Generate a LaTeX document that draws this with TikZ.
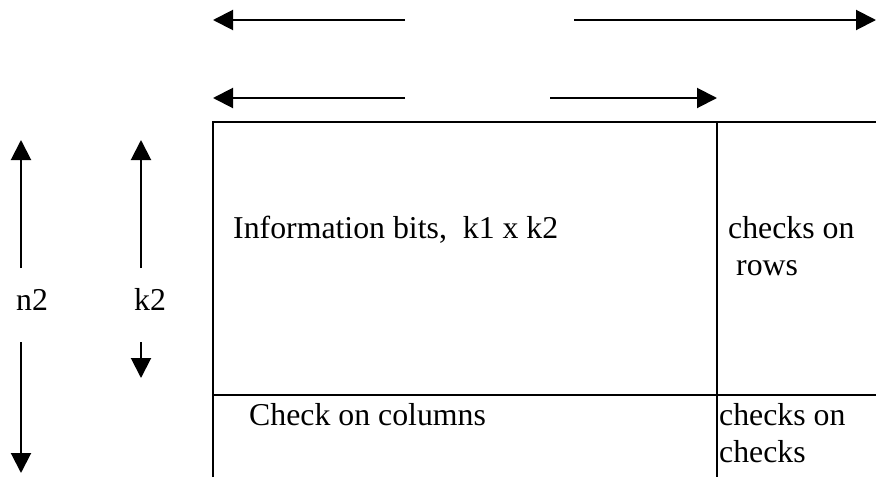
\documentclass[tikz,border=0pt]{standalone}
\usepackage{fontspec}
\setmainfont{Liberation Serif}
\usetikzlibrary{arrows.meta}
\begin{document}
\begin{tikzpicture}[x=1pt,y=-1pt,
  lbl/.style={inner sep=0pt, font=\fontsize{31.8}{37}\selectfont},
  rule/.style={line width=2pt},
  arr/.style={line width=2pt, -{Triangle[length=20pt,width=20pt]}}]
\useasboundingbox (0,0) rectangle (876,477);
% grid of the product code
\coordinate (TL) at (213,122);
\coordinate (TR) at (876,122);
\coordinate (ML) at (213,395);
\coordinate (MR) at (876,395);
\coordinate (BL) at (213,477);
\coordinate (VT) at (717,122);
\coordinate (VB) at (717,477);
\draw[rule] (BL) -- (TL) -- (TR);
\draw[rule] (VT) -- (VB);
\draw[rule] (ML) -- (MR);
% horizontal arrows
\coordinate (h1s) at (405,20);  \coordinate (h1e) at (213,20);
\coordinate (h2s) at (574,20);  \coordinate (h2e) at (876,20);
\coordinate (h3s) at (405,98);  \coordinate (h3e) at (213,98);
\coordinate (h4s) at (550,98);  \coordinate (h4e) at (717,98);
\draw[arr] (h1s) -- (h1e);
\draw[arr] (h2s) -- (h2e);
\draw[arr] (h3s) -- (h3e);
\draw[arr] (h4s) -- (h4e);
% vertical arrows
\coordinate (n2a) at (21,268);  \coordinate (n2b) at (21,140);
\coordinate (n2c) at (21,342);  \coordinate (n2d) at (21,473);
\coordinate (k2a) at (141,268); \coordinate (k2b) at (141,140);
\coordinate (k2c) at (141,342); \coordinate (k2d) at (141,378);
\draw[arr] (n2a) -- (n2b);
\draw[arr] (n2c) -- (n2d);
\draw[arr] (k2a) -- (k2b);
\draw[arr] (k2c) -- (k2d);
% labels
\node[lbl, anchor=base west] (n2) at (16,310) {n2};
\node[lbl, anchor=base west] (k2) at (134,310) {k2};
\node[lbl, anchor=base west] (info) at (233,238) {Information bits,\ \ k1 x k2};
\node[lbl, anchor=north west, align=left] (rows) at (728,216.5) {checks on\\\hspace*{8pt}rows};
\node[lbl, anchor=base west] (cols) at (249,425) {Check on columns};
\node[lbl, anchor=north west, align=left] (cc) at (719,403.5) {checks on\\checks};
\end{tikzpicture}
\end{document}
